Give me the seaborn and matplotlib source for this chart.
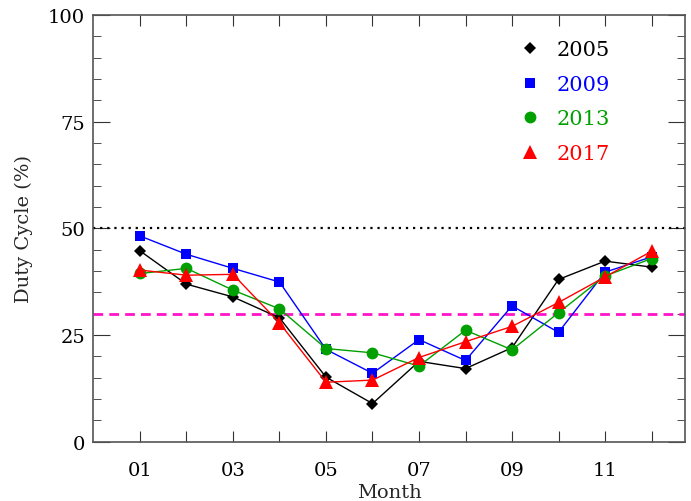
import pandas as pd
import seaborn as sns
import matplotlib.pyplot as plt
from matplotlib.ticker import MultipleLocator, FixedLocator

# values
months = [1, 2, 3, 4, 5, 6, 7, 8, 9, 10, 11, 12]
dc_2005 = [44.7, 36.9, 33.9, 29.0, 15.1, 8.9, 18.8, 17.1, 22.0, 38.0, 42.3, 40.9]
dc_2009 = [48.2, 43.9, 40.6, 37.4, 21.6, 16.0, 23.9, 19.0, 31.8, 25.6, 39.7, 43.3]
dc_2013 = [39.4, 40.6, 35.5, 31.1, 21.8, 20.8, 17.7, 26.1, 21.5, 30.2, 38.8, 42.9]
dc_2017 = [40.2, 39.0, 39.2, 27.8, 13.9, 14.4, 19.7, 23.4, 27.0, 32.6, 38.6, 44.6]
years = ['2005', '2009', '2013', '2017']
xtick_labels = ['01', '', '03', '', '05', '', '07', '', '09', '', '11', '']

colors = {'2005': 'black', '2009': '#0000ff', '2013': '#00a000', '2017': '#ff0000'}
markers = {'2005': 'D', '2009': 's', '2013': 'o', '2017': '^'}
msizes = {'2005': 6.5, '2009': 7.5, '2013': 8.5, '2017': 9.5}

rows = []
for yr, vals in zip(years, [dc_2005, dc_2009, dc_2013, dc_2017]):
    for m, v in zip(months, vals):
        rows.append({'Month': m, 'Duty': v, 'Year': yr})
df = pd.DataFrame(rows)

sns.set_style('ticks')
plt.rcParams['font.family'] = ['DejaVu Serif']

fig = plt.figure(figsize=(6.91, 5.02), dpi=100)
ax = fig.add_axes([0.1353, 0.1185, 0.8560, 0.8495])

# reference lines
ax.axhline(50, color='black', linestyle=(0, (1, 2.2)), linewidth=1.6, zorder=1)
ax.axhline(30, color='#ff14c8', linestyle=(0, (3.5, 2.2)), linewidth=2.0, zorder=1)

for yr in years:
    sub = df[df['Year'] == yr]
    sns.lineplot(data=sub, x='Month', y='Duty', ax=ax, color=colors[yr],
                 marker=markers[yr], markersize=msizes[yr], markeredgewidth=0,
                 linewidth=1.0, label=yr, zorder=3)

ax.set_xlim(0, 12.72)
ax.set_ylim(0, 100)
ax.xaxis.set_major_locator(FixedLocator(months))
ax.set_xticklabels(xtick_labels)
ax.yaxis.set_major_locator(MultipleLocator(25))
ax.yaxis.set_minor_locator(MultipleLocator(5))
ax.tick_params(axis='both', which='both', direction='in', top=True, right=True,
               labelsize=14, colors='#333333', labelcolor='black')
ax.tick_params(axis='x', which='major', length=8, pad=14)
ax.tick_params(axis='y', which='major', length=12, pad=6)
ax.tick_params(axis='y', which='minor', length=6)
for s in ax.spines.values():
    s.set_color('#555555')
    s.set_linewidth(1.2)

ax.set_xlabel('Month', fontsize=14, labelpad=3)
ax.set_ylabel('Duty Cycle (%)', fontsize=14, labelpad=11)

leg = ax.legend(loc='upper right', bbox_to_anchor=(0.905, 0.985), frameon=False,
                fontsize=15, handlelength=0.6, handletextpad=1.0,
                labelspacing=0.75, labelcolor='linecolor')
for h in leg.legend_handles:
    h.set_linestyle('None')

plt.savefig('out.png', dpi=100)
